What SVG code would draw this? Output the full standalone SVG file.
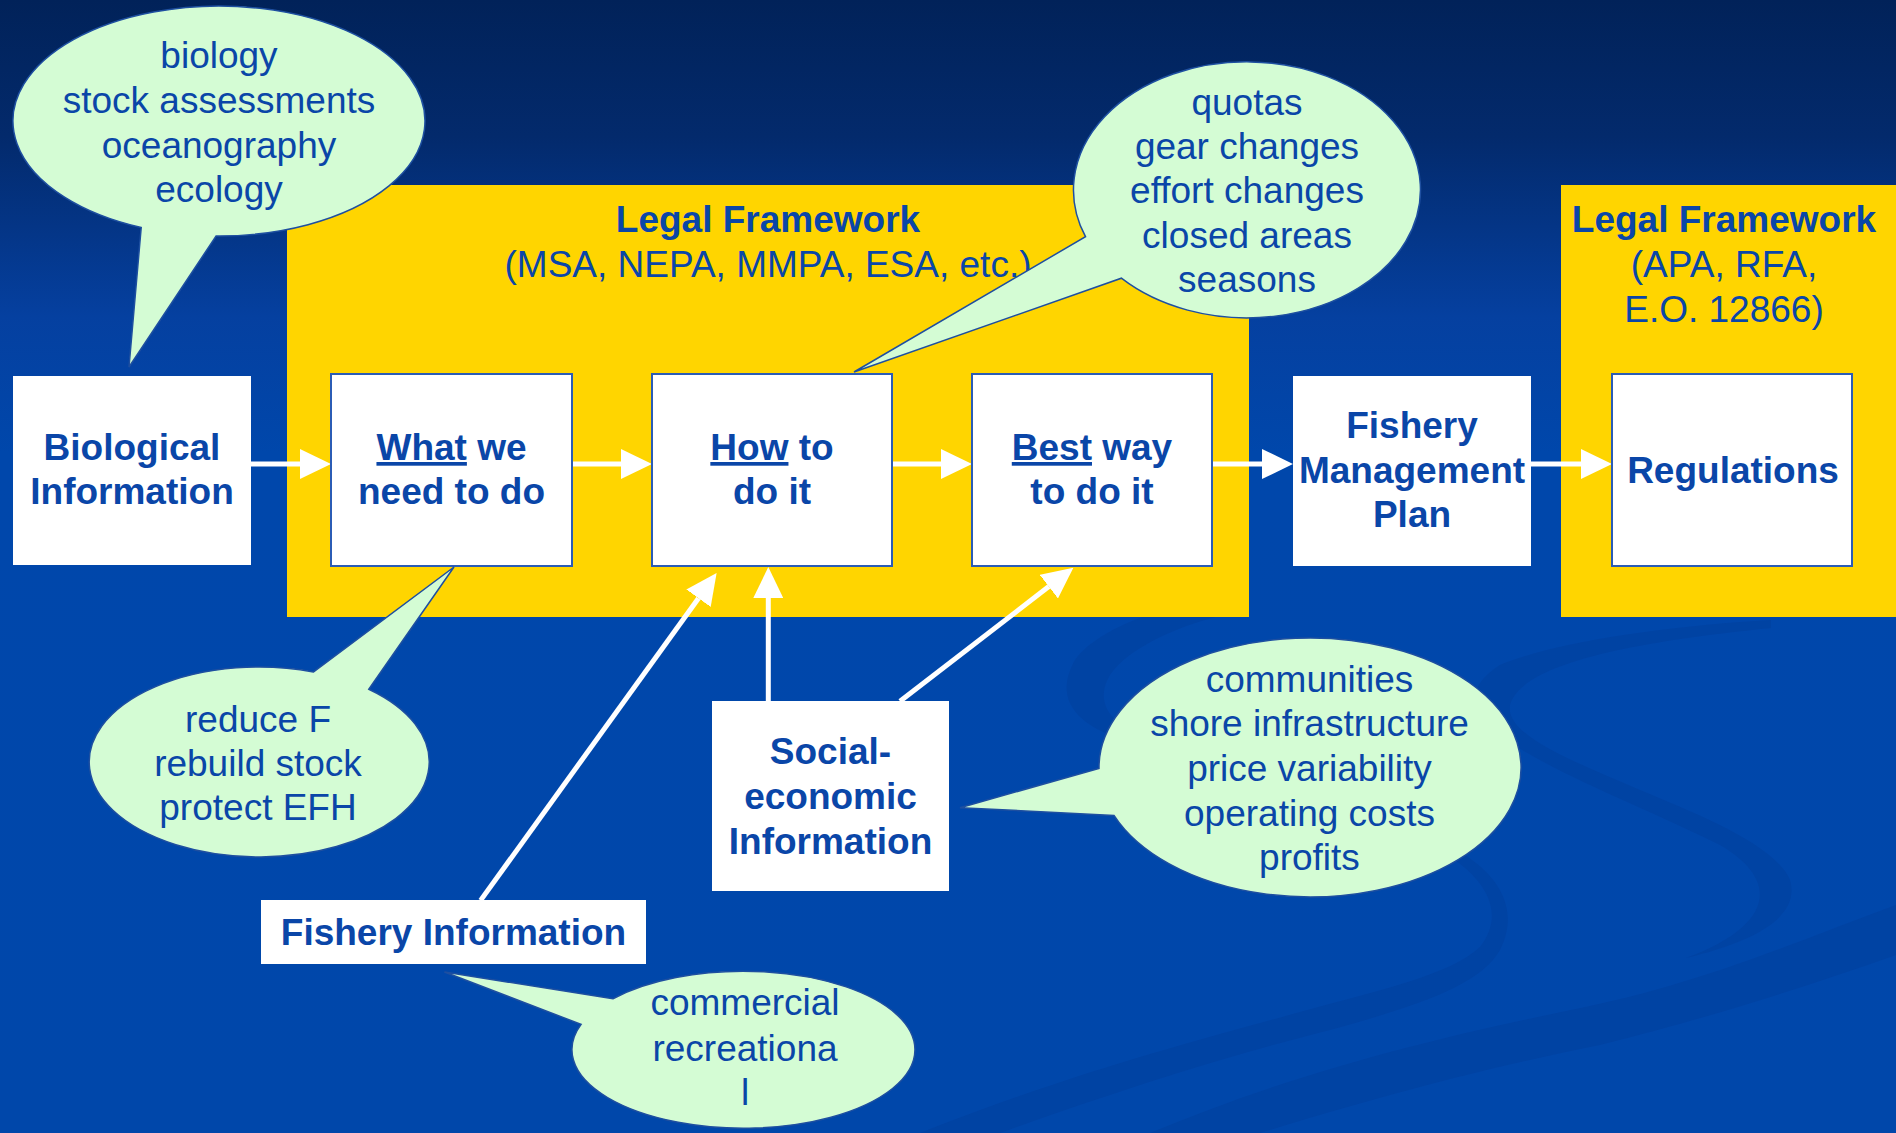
<svg xmlns="http://www.w3.org/2000/svg" width="1896" height="1133" viewBox="0 0 1896 1133">
<defs>
<linearGradient id="bg" gradientUnits="userSpaceOnUse" x1="0" y1="0" x2="0" y2="1133">
<stop offset="0" stop-color="#012259"/>
<stop offset="0.12" stop-color="#032A6C"/>
<stop offset="0.28" stop-color="#0540A0"/>
<stop offset="0.4" stop-color="#0047AB"/>
<stop offset="1" stop-color="#0047AA"/>
</linearGradient>
<marker id="ah" viewBox="0 0 31 30" markerWidth="31" markerHeight="30" refX="0" refY="15" markerUnits="userSpaceOnUse" orient="auto">
<path d="M0,0 L31,15 L0,30 Z" fill="#FFFFFF"/>
</marker>
<style>
.panel{fill:#FFD500;}
.box{fill:#FFFFFF;}
.obox{fill:#FFFFFF;stroke:#2B5CB5;stroke-width:2;}
.bubble{fill:#D4FCD4;stroke:#1E4FA0;stroke-width:1.5;}
.conn{stroke:#FFFFFF;stroke-width:5;fill:none;marker-end:url(#ah);}
.swoosh{fill:#003F9C;opacity:0.55;}
text{font-family:"Liberation Sans",Arial,Helvetica,sans-serif;font-size:37px;fill:#0A46A8;text-anchor:middle;}
.b{font-weight:bold;}
.u{text-decoration:underline;}
</style>
</defs>

<g id="background">
<rect x="0" y="0" width="1896" height="1133" fill="url(#bg)"/>
<path class="swoosh" d="M1246,593 C1180,600 1100,625 1075,660 C1055,695 1070,725 1131,742 L1160,745 C1105,725 1095,700 1110,675 C1130,645 1190,620 1246,610 Z"/>
<path class="swoosh" d="M1440,850 C1490,880 1505,915 1480,947 C1450,975 1380,990 1300,1012 C1200,1040 1080,1070 920,1133 L1000,1133 C1120,1090 1230,1055 1330,1030 C1420,1005 1480,985 1500,950 C1520,910 1500,875 1457,850 Z"/>
<path class="swoosh" d="M1771,620 C1680,625 1560,640 1500,665 C1460,690 1470,720 1514,745 C1570,780 1650,810 1720,845 C1780,880 1775,925 1686,958 C1760,940 1800,915 1790,880 C1775,845 1700,815 1640,790 C1570,760 1505,735 1510,705 C1520,670 1600,645 1771,628 Z"/>
<path class="swoosh" d="M1896,905 C1800,940 1700,985 1571,1010 C1450,1035 1300,1070 1150,1133 L1260,1133 C1400,1090 1500,1065 1600,1045 C1720,1015 1810,985 1896,955 Z"/>
</g>

<g id="legal-framework-1">
<rect class="panel" x="287" y="185" width="962" height="432"/>
<text class="b" x="768" y="232">Legal Framework</text>
<text x="768" y="277">(MSA, NEPA, MMPA, ESA, etc.)</text>
</g>

<g id="legal-framework-2">
<rect class="panel" x="1561" y="185" width="335" height="432"/>
<text class="b" x="1724" y="232">Legal Framework</text>
<text x="1724" y="277">(APA, RFA,</text>
<text x="1724" y="322">E.O. 12866)</text>
</g>

<g id="connectors">
<line class="conn" x1="251" y1="464" x2="300" y2="464"/>
<line class="conn" x1="572" y1="464" x2="621" y2="464"/>
<line class="conn" x1="892" y1="464" x2="941" y2="464"/>
<line class="conn" x1="1212" y1="464" x2="1262" y2="464"/>
<line class="conn" x1="1531" y1="464" x2="1581" y2="464"/>
<line class="conn" x1="768.3" y1="701" x2="768.3" y2="598"/>
<line class="conn" x1="480.6" y1="900.4" x2="698.5" y2="598.2"/>
<line class="conn" x1="900" y1="701.3" x2="1048.8" y2="586.6"/>
</g>

<g id="biological-information">
<rect class="box" x="13" y="376" width="238" height="189"/>
<text class="b" x="132" y="460">Biological</text>
<text class="b" x="132" y="504">Information</text>
</g>

<g id="what-we-need">
<rect class="obox" x="331" y="374" width="241" height="192"/>
<text class="b" x="451.5" y="460"><tspan class="u">What</tspan> we</text>
<text class="b" x="451.5" y="504">need to do</text>
</g>

<g id="how-to-do-it">
<rect class="obox" x="652" y="374" width="240" height="192"/>
<text class="b" x="772" y="460"><tspan class="u">How</tspan> to</text>
<text class="b" x="772" y="504">do it</text>
</g>

<g id="best-way">
<rect class="obox" x="972" y="374" width="240" height="192"/>
<text class="b" x="1092" y="460"><tspan class="u">Best</tspan> way</text>
<text class="b" x="1092" y="504">to do it</text>
</g>

<g id="fishery-management-plan">
<rect class="box" x="1293" y="376" width="238" height="190"/>
<text class="b" x="1412" y="438">Fishery</text>
<text class="b" x="1412" y="483">Management</text>
<text class="b" x="1412" y="527">Plan</text>
</g>

<g id="regulations">
<rect class="obox" x="1612" y="374" width="240" height="192"/>
<text class="b" x="1733" y="483">Regulations</text>
</g>

<g id="social-economic-information">
<rect class="box" x="712" y="701" width="237" height="190"/>
<text class="b" x="830.5" y="764">Social-</text>
<text class="b" x="830.5" y="809">economic</text>
<text class="b" x="830.5" y="853.5">Information</text>
</g>

<g id="fishery-information">
<rect class="box" x="261" y="900" width="385" height="64"/>
<text class="b" x="453.5" y="944.5">Fishery Information</text>
</g>

<g id="bubble-biology">
<path class="bubble" d="M141.2,227.5 A206,115 0 1 1 216.1,236 L129,367 Z"/>
<text x="219" y="68">biology</text>
<text x="219" y="113">stock assessments</text>
<text x="219" y="158">oceanography</text>
<text x="219" y="202">ecology</text>
</g>

<g id="bubble-quotas">
<path class="bubble" d="M1085.5,236.7 A173.5,128 0 1 1 1121.4,278.2 L854,372 Z"/>
<text x="1247" y="114.5">quotas</text>
<text x="1247" y="159">gear changes</text>
<text x="1247" y="203">effort changes</text>
<text x="1247" y="247.5">closed areas</text>
<text x="1247" y="292">seasons</text>
</g>

<g id="bubble-reduce">
<path class="bubble" d="M368.8,689.3 A170,95 0 1 1 313.5,671.9 L454,567 Z"/>
<text x="258" y="731.5">reduce F</text>
<text x="258" y="776">rebuild stock</text>
<text x="258" y="820">protect EFH</text>
</g>

<g id="bubble-communities">
<path class="bubble" d="M1099,768.4 A211,129.5 0 1 1 1114,815.4 L960,807.7 Z"/>
<text x="1309.5" y="691.5">communities</text>
<text x="1309.5" y="736">shore infrastructure</text>
<text x="1309.5" y="780.5">price variability</text>
<text x="1309.5" y="826">operating costs</text>
<text x="1309.5" y="870">profits</text>
</g>

<g id="bubble-commercial">
<path class="bubble" d="M612.9,998.8 A171.5,78.5 0 1 1 581.1,1024.4 L444.5,972 Z"/>
<text x="745" y="1015">commercial</text>
<text x="745" y="1060.5">recreationa</text>
<text x="745" y="1105">l</text>
</g>
</svg>
